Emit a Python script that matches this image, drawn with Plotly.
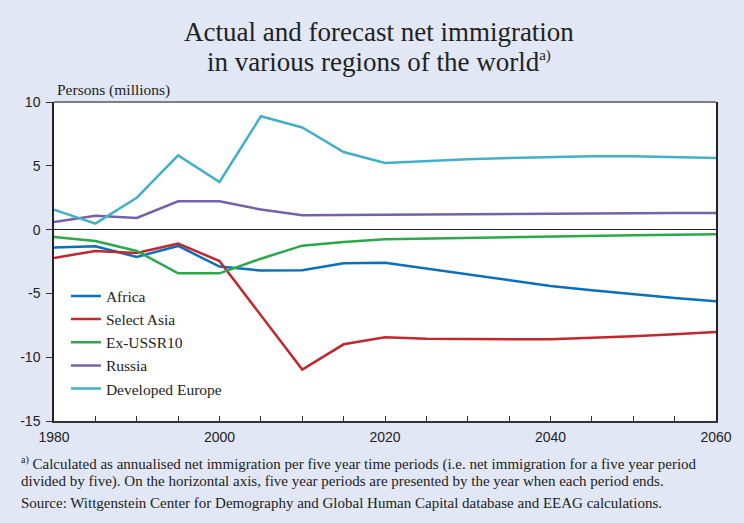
import plotly.graph_objects as go

# Period end years (five-year periods)
years = [1980, 1985, 1990, 1995, 2000, 2005, 2010, 2015, 2020,
         2025, 2030, 2035, 2040, 2045, 2050, 2055, 2060]

# Annualised net immigration, persons (millions)
africa = [-1.41, -1.31, -2.14, -1.28, -2.90, -3.21, -3.19, -2.64, -2.59,
          -3.05, -3.50, -3.97, -4.42, -4.76, -5.07, -5.36, -5.62]
select_asia = [-2.22, -1.67, -1.83, -1.10, -2.46, -6.70, -10.97, -8.99, -8.44,
               -8.55, -8.60, -8.60, -8.60, -8.49, -8.36, -8.20, -8.02]
ex_ussr10 = [-0.58, -0.89, -1.67, -3.43, -3.43, -2.28, -1.26, -0.97, -0.76,
             -0.70, -0.65, -0.60, -0.56, -0.50, -0.45, -0.41, -0.37]
russia = [0.60, 1.09, 0.91, 2.22, 2.22, 1.57, 1.12, 1.14, 1.17,
          1.20, 1.24, 1.27, 1.29, 1.30, 1.30, 1.30, 1.30]
developed_europe = [1.57, 0.47, 2.50, 5.82, 3.73, 8.88, 8.00, 6.08, 5.22,
                    5.40, 5.52, 5.62, 5.70, 5.75, 5.75, 5.70, 5.62]

# Axis tick values and labels (hyphen as minus sign)
y_ticks = [-15, -10, -5, 0, 5, 10]
y_tick_text = ["-15", "-10", "-5", "0", "5", "10"]

series = [
    ("Africa", africa, "#0A6FBD"),
    ("Select Asia", select_asia, "#C1272D"),
    ("Ex-USSR10", ex_ussr10, "#2BA84A"),
    ("Russia", russia, "#7561A8"),
    ("Developed Europe", developed_europe, "#43B0C9"),
]

BG = "#E1E7F4"
SERIF = "Liberation Serif, Times New Roman, serif"
SANS = "Liberation Sans, Arial, sans-serif"
INK = "#222222"

fig = go.Figure()
for name, vals, color in series:
    fig.add_trace(go.Scatter(
        x=years, y=vals, name=name, mode="lines",
        line=dict(color=color, width=2.5),
    ))

fig.update_layout(
    width=744, height=523,
    margin=dict(l=54, r=16, t=102, b=102),
    paper_bgcolor=BG,
    plot_bgcolor="white",
    showlegend=True,
    legend=dict(
        x=0.018, y=0.444, xanchor="left", yanchor="top",
        bgcolor="rgba(0,0,0,0)",
        font=dict(family=SERIF, size=15.5, color=INK),
        itemwidth=30, tracegroupgap=0,
    ),
    xaxis=dict(
        range=[1980, 2060], tick0=1980, dtick=20,
        ticks="inside", ticklen=5, tickcolor="#333333",
        minor=dict(dtick=5, ticks="inside", ticklen=5, tickcolor="#333333"),
        showline=True, linecolor="#333333", linewidth=1.5,
        showgrid=False, zeroline=False,
        ticklabelstandoff=2,
        tickfont=dict(family=SANS, size=14, color=INK),
    ),
    yaxis=dict(
        range=[-15, 10], tickvals=y_ticks, ticktext=y_tick_text,
        ticks="outside", ticklen=6, tickcolor="#333333",
        showline=True, linecolor=INK, linewidth=1.5, mirror=True,
        showgrid=False,
        zeroline=True, zerolinecolor=INK, zerolinewidth=1.2,
        ticklabelstandoff=3,
        tickfont=dict(family=SANS, size=14, color=INK),
    ),
)

# Grey top border of the plot frame
fig.add_shape(type="line", xref="paper", yref="paper",
              x0=0, x1=1, y0=1, y1=1,
              line=dict(color="#7F7F7F", width=2))

SUP_A = "<sup><span style='font-size:15px'>a)</span></sup>"
titles = [
    ("Actual and forecast net immigration", 1.2185),
    ("in various regions of the world" + SUP_A, 1.124),
]
for text, yy in titles:
    fig.add_annotation(text=text, xref="paper", yref="paper",
                       x=0.491, y=yy, xanchor="center", yanchor="middle",
                       showarrow=False,
                       font=dict(family=SERIF, size=27, color=INK))

fig.add_annotation(text="Persons (millions)", xref="paper", yref="paper",
                   x=0.0015, y=1.037, xanchor="left", yanchor="middle",
                   showarrow=False,
                   font=dict(family=SERIF, size=15.5, color=INK))

SUP_NOTE = "<sup><span style='font-size:10px'>a)</span></sup>"
notes = [
    (SUP_NOTE + " Calculated as annualised net immigration per five year time periods "
     "(i.e. net immigration for a five year period", -0.1326),
    ("divided by five). On the horizontal axis, five year periods are presented by the "
     "year when each period ends.", -0.189),
    ("Source: Wittgenstein Center for Demography and Global Human Capital database "
     "and EEAG calculations.", -0.258),
]
for text, yy in notes:
    fig.add_annotation(text=text, xref="paper", yref="paper",
                       x=-0.0534, y=yy, xanchor="left", yanchor="middle",
                       showarrow=False,
                       font=dict(family=SERIF, size=15, color=INK))

fig.write_html("out.html")
